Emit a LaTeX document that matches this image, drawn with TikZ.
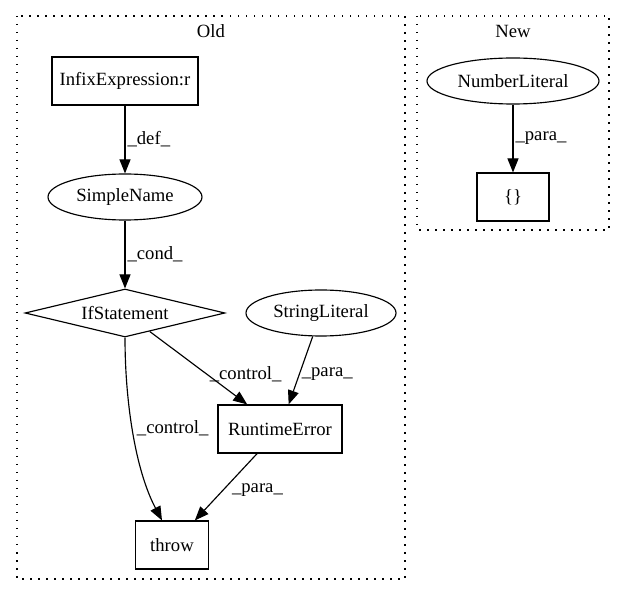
\documentclass[tikz,border=0pt]{standalone}
\usepackage{fontspec}
\setmainfont{Liberation Serif}
\usetikzlibrary{shapes.geometric,arrows.meta}
\begin{document}
\begin{tikzpicture}[x=1pt,y=-1pt,
  every node/.style={font=\fontsize{18.67}{22}\selectfont, inner sep=0pt},
  boxnode/.style={draw, line width=1.15pt, rectangle, minimum height=48pt},
  ellnode/.style={draw, line width=1.15pt, ellipse, minimum height=46pt},
  dianode/.style={draw, line width=1.15pt, diamond, aspect=4, minimum width=200pt, minimum height=48pt},
  conn/.style={line width=1.15pt, -{Triangle[length=14pt,width=11pt]}},
  lbl/.style={anchor=west, inner sep=2pt},
  cluster/.style={draw, line width=1.15pt, dash pattern=on 1.5pt off 6.5pt}]
\useasboundingbox (0,0) rectangle (625,596);
% clusters
\draw[cluster] (17,16) rectangle (405,579);
\node (oldlbl) at (211,31) {Old};
\draw[cluster] (417,16) rectangle (609,230);
\node (newlbl) at (513,31) {New};
% nodes
\node[boxnode, minimum width=146pt] (infix) at (125,81) {InfixExpression:r};
\node[ellnode, minimum width=154pt] (simple) at (125,197) {SimpleName};
\node[dianode] (ifs) at (125,313) {IfStatement};
\node[ellnode, minimum width=150pt] (strlit) at (321,313) {StringLiteral};
\node[boxnode, minimum width=124pt] (rt) at (280,429) {RuntimeError};
\node[boxnode, minimum width=73pt] (throw) at (172,545) {throw};
\node[ellnode, minimum width=172pt] (numlit) at (513,81) {NumberLiteral};
\node[boxnode, minimum width=72pt] (braces) at (513,197) {\{\}};
% edges
\draw[conn] (infix) -- node[lbl]{\_def\_} (simple);
\draw[conn] (simple) -- node[lbl]{\_cond\_} (ifs);
\draw[conn] (ifs) -- node[lbl, pos=0.59]{\_control\_} (rt);
\draw[conn] (strlit) -- node[lbl, pos=0.56]{\_para\_} (rt);
\draw[conn] (ifs.south) .. controls +(0,63) and +(-27,-51) .. ([xshift=-10pt]throw.north) node[lbl, pos=0.47, xshift=2pt]{\_control\_};
\draw[conn] (rt) -- node[lbl, pos=0.54, xshift=6pt]{\_para\_} (throw);
\draw[conn] (numlit) -- node[lbl]{\_para\_} (braces);
\end{tikzpicture}
\end{document}
